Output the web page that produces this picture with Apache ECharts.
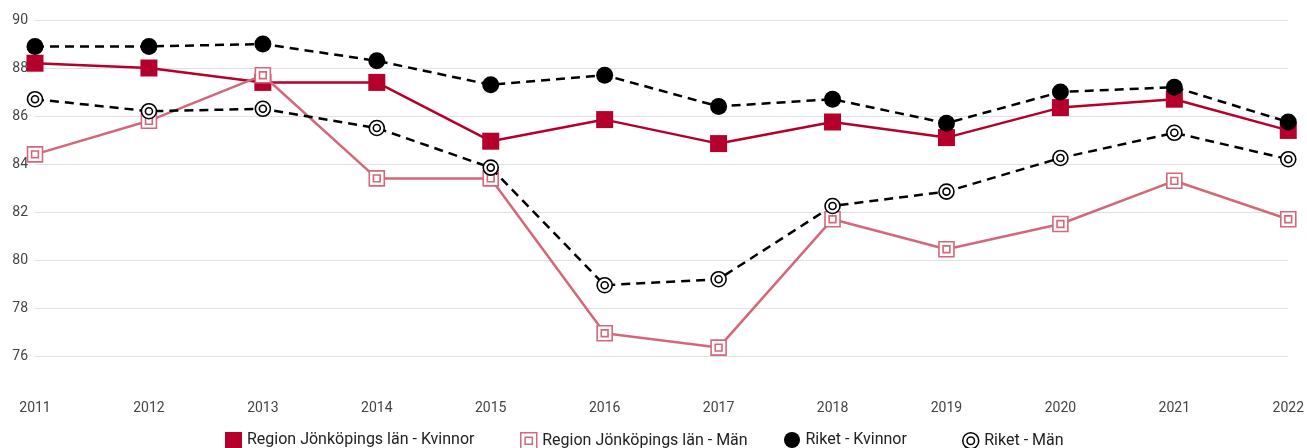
<!DOCTYPE html>
<html>
<head>
<meta charset="utf-8">
<script src="https://cdn.jsdelivr.net/npm/echarts@6/dist/echarts.min.js"></script>
<style>
html,body{margin:0;padding:0;background:#fff;}
#c{width:1307px;height:448px;}
</style>
</head>
<body>
<div id="c"></div>
<script>
var years = ['2011','2012','2013','2014','2015','2016','2017','2018','2019','2020','2021','2022'];
var regionKvinnor = [88.2, 88.0, 87.4, 87.4, 84.95, 85.85, 84.85, 85.75, 85.1, 86.35, 86.7, 85.4];
var regionMan     = [84.4, 85.8, 87.7, 83.4, 83.4, 76.95, 76.35, 81.7, 80.45, 81.5, 83.3, 81.7];
var riketKvinnor  = [88.9, 88.9, 89.0, 88.3, 87.3, 87.7, 86.4, 86.7, 85.7, 87.0, 87.2, 85.75];
var riketMan      = [86.7, 86.2, 86.3, 85.5, 83.85, 78.95, 79.2, 82.25, 82.85, 84.25, 85.3, 84.2];
var seriesNames = ['Region Jönköpings län - Kvinnor','Region Jönköpings län - Män','Riket - Kvinnor','Riket - Män'];

var RED = '#b5002b', PINK = '#d2687a', BLACK = '#000000';
var dblSquare = 'path://M0,0L20,0L20,20L0,20ZM5.5,5.5L14.5,5.5L14.5,14.5L5.5,14.5Z';
var dblCircle = 'path://M10,0A10,10 0 1 1 9.99,0ZM10,5.3A4.7,4.7 0 1 1 9.99,5.3Z';

var chart = echarts.init(document.getElementById('c'), null, {renderer:'canvas'});
var legendBase = {
  orient:'horizontal', top:432, padding:0, itemWidth:17, itemHeight:16, itemGap:0,
  textStyle:{fontFamily:'Roboto', fontSize:16, color:'#222', padding:[0,0,0,0]},
  selectedMode:false
};
function lg(left, name, icon, style){
  return Object.assign({}, legendBase, {left:left, data:[{name:name, icon:icon, itemStyle:style}]});
}
chart.setOption({
  animation:false,
  textStyle:{fontFamily:'Roboto'},
  grid:{left:35, right:17, top:20, bottom:92, containLabel:false},
  xAxis:{
    type:'category', data:years, boundaryGap:false,
    axisLine:{show:false}, axisTick:{show:false},
    axisLabel:{margin:45, fontSize:14, color:'#444', fontFamily:'Roboto'},
    splitLine:{show:false}
  },
  yAxis:{
    type:'value', min:76, max:90, interval:2,
    axisLine:{show:false}, axisTick:{show:false},
    axisLabel:{margin:7, fontSize:14, color:'#444', fontFamily:'Roboto'},
    splitLine:{lineStyle:{color:'#e0e0e0', width:1}}
  },
  legend:[
    lg(225, seriesNames[0], 'rect', {color:RED, borderWidth:0}),
    lg(520, seriesNames[1], dblSquare, {color:'#fff', borderColor:PINK, borderWidth:1.5}),
    lg(784, seriesNames[2], 'circle', {color:BLACK, borderWidth:0}),
    lg(962, seriesNames[3], dblCircle, {color:'#fff', borderColor:BLACK, borderWidth:1.5})
  ],
  series:[
    {name:seriesNames[0], type:'line', data:regionKvinnor, symbol:'rect', symbolSize:17,
     lineStyle:{color:RED, width:2.5}, itemStyle:{color:RED, borderWidth:0}, z:2},
    {name:seriesNames[1], type:'line', data:regionMan, symbol:dblSquare, symbolSize:15,
     lineStyle:{color:PINK, width:2.5}, itemStyle:{color:'#fff', borderColor:PINK, borderWidth:1.6}, z:3},
    {name:seriesNames[2], type:'line', data:riketKvinnor, symbol:'circle', symbolSize:17,
     lineStyle:{color:BLACK, width:2.5, type:[9,6]}, itemStyle:{color:BLACK, borderWidth:0}, z:4},
    {name:seriesNames[3], type:'line', data:riketMan, symbol:dblCircle, symbolSize:15,
     lineStyle:{color:BLACK, width:2.5, type:[9,6]}, itemStyle:{color:'#fff', borderColor:BLACK, borderWidth:1.6}, z:5}
  ]
});
</script>
</body>
</html>
